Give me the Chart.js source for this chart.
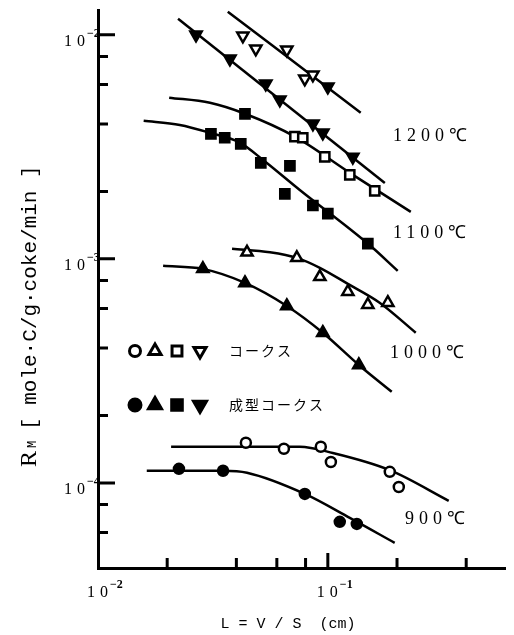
<!DOCTYPE html>
<html>
<head>
<meta charset="utf-8">
<script src="https://cdn.jsdelivr.net/npm/chart.js@4.4.0/dist/chart.umd.min.js"></script>
<style>
  html, body { margin: 0; padding: 0; background: #fff; }
  canvas { display: block; }
</style>
</head>
<body>
<canvas id="rmChart" width="514" height="635"></canvas>
<script>
// 測定点 [L(cm), Rm] — 白抜き = コークス, 黒 = 成型コークス
const cokeTri1200   = [[0.0427,0.00990],[0.0486,0.00866],[0.0663,0.00857],[0.0794,0.00636],[0.0861,0.00663]];
const formedTri1200 = [[0.0267,0.0100],[0.0375,0.00781],[0.0537,0.00604],[0.0618,0.00513],[0.100,0.00586],
                       [0.0861,0.00401],[0.0951,0.00365],[0.1284,0.00285]];
const cokeSq1100    = [[0.0719,0.00351],[0.0778,0.00347],[0.0970,0.00285],[0.1246,0.00237],[0.160,0.00201]];
const formedSq1100  = [[0.0436,0.00444],[0.0310,0.00361],[0.0356,0.00347],[0.0418,0.00326],[0.0511,0.00268],
                       [0.0684,0.00260],[0.0650,0.00195],[0.0861,0.00173],[0.100,0.00159],[0.1493,0.00117]];
const cokeTri1000   = [[0.0445,0.00107],[0.0733,0.00101],[0.0923,0.000831],[0.1222,0.000713],[0.1493,0.000624],[0.1824,0.000637]];
const formedTri1000 = [[0.0286,0.000902],[0.0436,0.000781],[0.0663,0.000616],[0.0951,0.000468],[0.1364,0.000336]];
const cokeCirc900   = [[0.0440,0.000151],[0.0644,0.000142],[0.0932,0.000145],[0.1031,0.000124],[0.186,0.000112],[0.2036,0.0000959]];
const formedCirc900 = [[0.0225,0.0001155],[0.0350,0.0001133],[0.0794,0.0000893],[0.1127,0.0000670],[0.1337,0.0000656]];

// 近似曲線
const fitCoke1200   = [[0.0367,0.01268],[0.139,0.00449]];
const fitFormed1200 = [[0.0223,0.01179],[0.177,0.00218]];
const fitCoke1100   = [[0.0204,0.00524],[0.0307,0.00497],[0.0436,0.00444],[0.0719,0.00351],[0.1246,0.00242],[0.2296,0.00162]];
const fitFormed1100 = [[0.0158,0.00413],[0.0227,0.00396],[0.0307,0.00365],[0.0414,0.00330],[0.0521,0.00277],
                       [0.0755,0.00203],[0.1493,0.00117],[0.2014,0.000884]];
const fitCoke1000   = [[0.0383,0.00111],[0.0560,0.00107],[0.0733,0.00101],[0.0923,0.000912],[0.1222,0.000773],
                       [0.168,0.000637],[0.2413,0.000468]];
const fitFormed1000 = [[0.0192,0.000931],[0.0286,0.000902],[0.0436,0.000781],[0.0663,0.000616],[0.0951,0.000468],
                       [0.1364,0.000336],[0.1897,0.000255]];
const fitCoke900    = [[0.0208,0.000145],[0.0755,0.000145],[0.1051,0.000136],[0.186,0.000114],[0.3357,0.0000832]];
const fitFormed900  = [[0.0163,0.0001133],[0.0350,0.0001133],[0.0445,0.000111],[0.0794,0.0000893],[0.1246,0.0000698],[0.1954,0.0000540]];

// 軸
const xRange = [0.01, 0.59];
const yRange = [4.17e-5, 1.29e-2];
const xTickValues = [0.02, 0.04, 0.06, 0.08, 0.1, 0.2, 0.4];
const yTickValues = [6e-5, 8e-5, 1e-4, 2e-4, 4e-4, 6e-4, 8e-4, 1e-3, 2e-3, 4e-3, 6e-3, 8e-3, 1e-2];
const xLabelValues = [0.01, 0.1];
const yLabelValues = [1e-4, 1e-3, 1e-2];

const tempLabels = [
  { text: '1200℃', x: 393, y: 141 },
  { text: '1100℃', x: 393, y: 238 },
  { text: '1000℃', x: 390, y: 358 },
  { text: '900℃',  x: 405, y: 524 }
];

const toXY = arr => arr.map(p => ({ x: p[0], y: p[1] }));

const markerSize = { circle: 5, triangle: 6.5, rect: 6.5 };

function pointSet(data, style, filled, rotation) {
  return {
    type: 'scatter',
    data: toXY(data),
    showLine: false,
    pointStyle: style,
    pointRotation: rotation || 0,
    pointRadius: markerSize[style],
    pointBorderWidth: 2.5,
    pointBorderColor: '#000',
    pointBackgroundColor: filled ? '#000' : '#fff',
    order: 0
  };
}

function fitLine(data) {
  return {
    type: 'scatter',
    data: toXY(data),
    showLine: true,
    borderColor: '#000',
    borderWidth: 2.5,
    pointRadius: 0,
    cubicInterpolationMode: 'monotone',
    order: 1
  };
}

function isDecade(v) {
  const l = Math.log10(v);
  return Math.abs(l - Math.round(l)) < 1e-9;
}

// 「10」+ 上付き指数
function drawPower(ctx, v, x, y, align) {
  const e = '−' + Math.abs(Math.round(Math.log10(v)));
  ctx.font = '16px "Liberation Serif"';
  ctx.letterSpacing = '5px';
  const w = ctx.measureText('10').width - 5;
  const left = align === 'right' ? x - w : x;
  ctx.textAlign = 'left';
  ctx.fillText('10', left, y);
  ctx.letterSpacing = '0px';
  ctx.font = 'bold 12px "Liberation Serif"';
  ctx.fillText(e, left + w + 2, y - 9);
}

// 内向きの目盛り, 目盛りラベル, 温度, 凡例, 軸タイトル
const decorPlugin = {
  id: 'decor',
  afterDraw(chart) {
    const ctx = chart.ctx;
    const area = chart.chartArea;
    const xs = chart.scales.x, ys = chart.scales.y;
    ctx.save();
    ctx.strokeStyle = '#000';
    ctx.fillStyle = '#000';
    ctx.lineWidth = 3;
    ctx.beginPath();
    yTickValues.forEach(v => {
      const py = ys.getPixelForValue(v);
      const len = isDecade(v) ? 17 : 10;
      ctx.moveTo(area.left, py);
      ctx.lineTo(area.left + len, py);
    });
    xTickValues.forEach(v => {
      const px = xs.getPixelForValue(v);
      const len = isDecade(v) ? 15 : 10;
      ctx.moveTo(px, area.bottom);
      ctx.lineTo(px, area.bottom - len);
    });
    ctx.stroke();

    ctx.textBaseline = 'alphabetic';
    yLabelValues.forEach(v => {
      drawPower(ctx, v, area.left - 13, ys.getPixelForValue(v) + 11, 'right');
    });
    xLabelValues.forEach(v => {
      drawPower(ctx, v, xs.getPixelForValue(v) - 11, area.bottom + 29, 'left');
    });

    // 温度ラベル
    ctx.font = '18px "Liberation Serif"';
    ctx.letterSpacing = '5px';
    ctx.textAlign = 'left';
    tempLabels.forEach(t => ctx.fillText(t.text, t.x, t.y));
    ctx.letterSpacing = '0px';

    // 凡例
    const legendRows = [
      { filled: false, y: 351, text: 'コークス' },
      { filled: true,  y: 405, text: '成型コークス' }
    ];
    const legendShapes = [
      { style: 'circle', rot: 0, x: 135 },
      { style: 'triangle', rot: 0, x: 155 },
      { style: 'rect', rot: 0, x: 177 },
      { style: 'triangle', rot: 180, x: 200 }
    ];
    legendRows.forEach(row => {
      legendShapes.forEach(s => {
        ctx.fillStyle = row.filled ? '#000' : '#fff';
        ctx.strokeStyle = '#000';
        ctx.lineWidth = 3;
        Chart.helpers.drawPoint(ctx, {
          pointStyle: s.style,
          radius: markerSize[s.style] + (row.filled ? 1 : 0.5),
          rotation: s.rot,
          borderWidth: 3
        }, s.x, row.y);
      });
      ctx.fillStyle = '#000';
      ctx.font = '14px "Noto Sans CJK JP"';
      ctx.letterSpacing = '2px';
      ctx.textBaseline = 'middle';
      ctx.fillText(row.text, 229, row.y);
      ctx.letterSpacing = '0px';
    });

    // x 軸タイトル
    ctx.textBaseline = 'alphabetic';
    ctx.textAlign = 'center';
    ctx.font = '15px "Liberation Mono"';
    ctx.fillText('L = V / S  (cm)', 288, 628);

    // y 軸タイトル
    ctx.translate(36, 467);
    ctx.rotate(-Math.PI / 2);
    ctx.textAlign = 'left';
    ctx.font = '24px "Liberation Serif"';
    ctx.fillText('R', 0, 0);
    ctx.font = '12px "Liberation Mono"';
    ctx.fillText('M', 19, 0);
    ctx.font = '21px "Liberation Mono"';
    ctx.fillText('[ mole·C/g·coke/min ]', 37, 0);
    ctx.restore();
  }
};

new Chart(document.getElementById('rmChart'), {
  type: 'scatter',
  data: {
    datasets: [
      pointSet(cokeTri1200, 'triangle', false, 180),
      pointSet(formedTri1200, 'triangle', true, 180),
      pointSet(cokeSq1100, 'rect', false),
      pointSet(formedSq1100, 'rect', true),
      pointSet(cokeTri1000, 'triangle', false),
      pointSet(formedTri1000, 'triangle', true),
      pointSet(cokeCirc900, 'circle', false),
      pointSet(formedCirc900, 'circle', true),
      fitLine(fitCoke1200),
      fitLine(fitFormed1200),
      fitLine(fitCoke1100),
      fitLine(fitFormed1100),
      fitLine(fitCoke1000),
      fitLine(fitFormed1000),
      fitLine(fitCoke900),
      fitLine(fitFormed900)
    ]
  },
  options: {
    responsive: false,
    animation: false,
    devicePixelRatio: 1,
    layout: { padding: { top: 10, right: 9, left: 0, bottom: 0 } },
    plugins: { legend: { display: false }, tooltip: { enabled: false } },
    scales: {
      x: {
        type: 'logarithmic',
        min: xRange[0],
        max: xRange[1],
        afterBuildTicks: s => { s.ticks = xLabelValues.map(v => ({ value: v })); },
        afterFit: s => { s.height = 67; },
        grid: { display: false, drawTicks: false },
        border: { display: true, color: '#000', width: 3 },
        ticks: { display: false }
      },
      y: {
        type: 'logarithmic',
        min: yRange[0],
        max: yRange[1],
        afterBuildTicks: s => { s.ticks = yLabelValues.map(v => ({ value: v })); },
        afterFit: s => { s.width = 98; },
        grid: { display: false, drawTicks: false },
        border: { display: true, color: '#000', width: 3 },
        ticks: { display: false }
      }
    }
  },
  plugins: [decorPlugin]
});
</script>
</body>
</html>
